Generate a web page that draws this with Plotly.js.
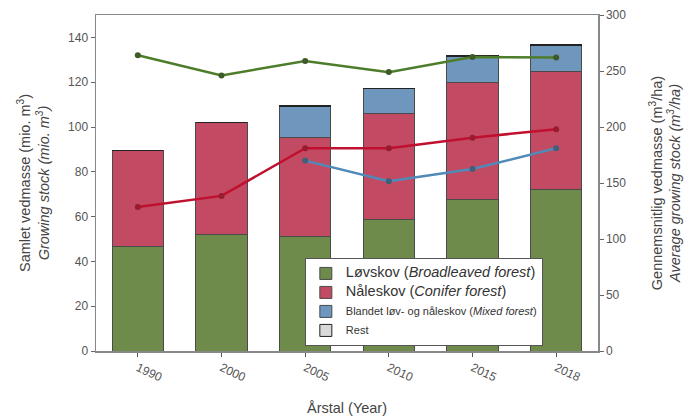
<!DOCTYPE html>
<html><head><meta charset="utf-8">
<script src="https://cdn.plot.ly/plotly-3.0.1.min.js"></script>
<style>body{margin:0;background:#fff}#c{width:687px;height:419px}</style>
</head><body><div id="c"></div>
<script>
const years = ['1990','2000','2005','2010','2015','2018'];
const loevskov = [46.5, 52, 51, 58.5, 67.5, 72];
const naaleskov = [43, 50, 44.5, 47.5, 52.5, 53];
const blandet = [0, 0, 13.5, 11, 11.5, 11.5];
const rest = [0, 0, 0.4, 0.4, 0.3, 0.4];
const avgLoev = [264, 246, 259, 249, 262.5, 262];
const avgNaal = [128.5, 138.5, 181, 181, 190.5, 198];
const avgBland = [null, null, 170, 151.5, 162.5, 181];

const barLine = {color:'#4a4a4a', width:1};
const font = {family:'Liberation Sans, Arial, sans-serif'};
const traces = [
 {type:'bar', x:years, y:loevskov, name:'<span style="font-size:14.5px">Løvskov (<i>Broadleaved forest</i>)</span>', marker:{color:'#6e8b4c', line:barLine}, width:0.61},
 {type:'bar', x:years, y:naaleskov, name:'<span style="font-size:14.5px">Nåleskov (<i>Conifer forest</i>)</span>', marker:{color:'#c24b63', line:barLine}, width:0.61},
 {type:'bar', x:years, y:blandet, name:'<span style="font-size:11px">Blandet løv- og nåleskov (<i>Mixed forest</i>)</span>', marker:{color:'#6f96bc', line:barLine}, width:0.61},
 {type:'bar', x:years, y:rest, name:'<span style="font-size:11px">Rest</span>', marker:{color:'#d9d9d9', line:{color:'#222', width:1}}, width:0.61},
 {type:'scatter', mode:'lines+markers', x:years, y:avgLoev, yaxis:'y2', showlegend:false, line:{color:'#4d7d2a', width:2.5}, marker:{color:'#3d5a28', size:6}},
 {type:'scatter', mode:'lines+markers', x:years, y:avgNaal, yaxis:'y2', showlegend:false, line:{color:'#c0102f', width:2.5}, marker:{color:'#9a1a30', size:6}},
 {type:'scatter', mode:'lines+markers', x:years, y:avgBland, yaxis:'y2', showlegend:false, connectgaps:false, line:{color:'#4f8ab8', width:2.5}, marker:{color:'#3f5f7a', size:6}}
];
const layout = {
 width:687, height:419,
 margin:{l:96, r:89, t:15, b:68},
 font:Object.assign({size:12, color:'#444'}, font),
 barmode:'stack',
 paper_bgcolor:'#fff', plot_bgcolor:'#fff',
 xaxis:{type:'category', range:[-0.5,5.5], tickangle:25, ticks:'outside', ticklen:4, tickcolor:'#555',
  showline:true, linecolor:'#888', linewidth:1.5, mirror:true, showgrid:false,
  tickfont:{size:12, color:'#555'},
  title:{text:'Årstal (Year)', font:{size:14.5, color:'#444'}, standoff:19}},
 yaxis:{range:[0,150], tickvals:[0,20,40,60,80,100,120,140], ticks:'outside', ticklen:4, tickcolor:'#666',
  showline:true, linecolor:'#888', linewidth:1.5, showgrid:false, zeroline:false,
  tickfont:{size:12, color:'#555'},
  title:{text:'Samlet vedmasse (mio. m<sup>3</sup>)<br><i>Growing stock (mio. m<sup>3</sup>)</i>', font:{size:14.5, color:'#444'}, standoff:15}},
 yaxis2:{range:[0,300], overlaying:'y', side:'right', tickvals:[0,50,100,150,200,250,300], ticks:'outside', ticklen:4, tickcolor:'#666',
  showline:true, linecolor:'#888', linewidth:1.5, showgrid:false, zeroline:false,
  tickfont:{size:12, color:'#555'},
  title:{text:'Gennemsnitlig vedmasse (m<sup>3</sup>/ha)<br><i>Average growing stock (m<sup>3</sup>/ha)</i>', font:{size:14.5, color:'#444'}, standoff:26}},
 legend:{x:0.416, y:0.277, xanchor:'left', yanchor:'top', traceorder:'normal', bgcolor:'#fff', bordercolor:'#555', borderwidth:1,
  font:{size:9, color:'#333'}, tracegroupgap:0, itemwidth:30},
 showlegend:true
};
Plotly.newPlot('c', traces, layout, {displayModeBar:false, staticPlot:true});
</script></body></html>
